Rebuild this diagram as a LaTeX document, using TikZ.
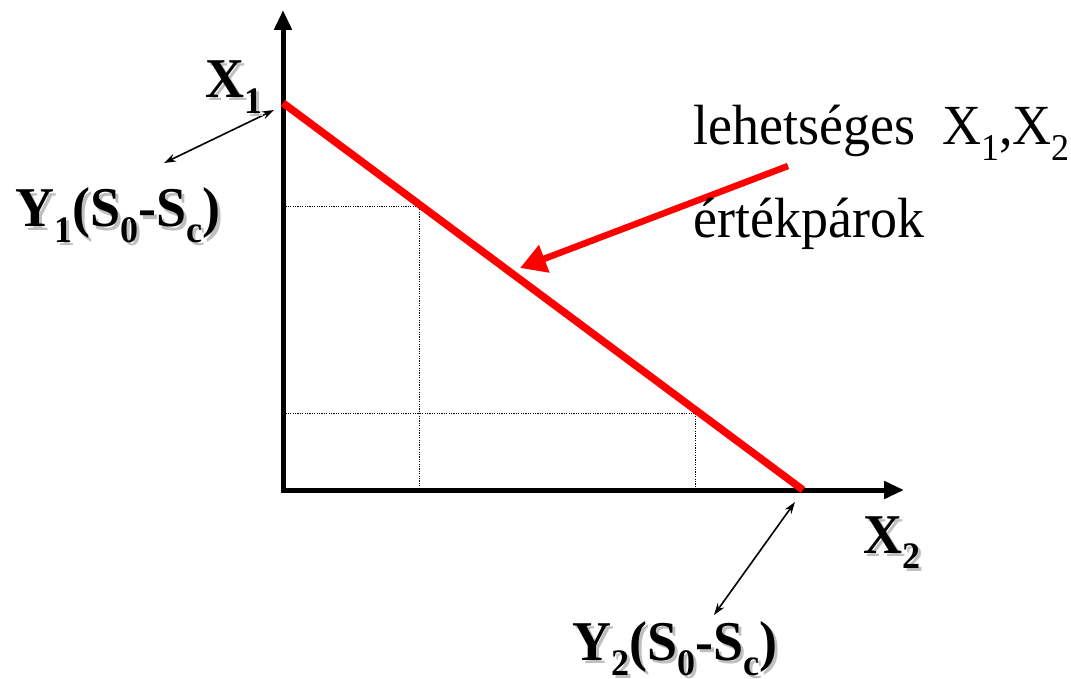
\documentclass[tikz,border=0pt]{standalone}
\usepackage{fontspec}
\setmainfont{Liberation Serif}
\usetikzlibrary{arrows.meta}
\newcommand{\sbs}[1]{\raisebox{-0.27em}{\fontsize{36}{36}\selectfont #1}}
\begin{document}
\begin{tikzpicture}[x=1pt,y=-1pt,
  axisline/.style={line width=5pt,line join=miter,{Triangle[length=20pt,width=17pt]}-{Triangle[length=20pt,width=17pt]}},
  redline/.style={draw=red,line width=7.5pt},
  redarrow/.style={draw=red,line width=6.5pt,-{Triangle[length=26pt,width=28pt]}},
  thinarrow/.style={line width=1.6pt,{Stealth[length=12pt,width=8pt]}-{Stealth[length=12pt,width=8pt]}},
  guide/.style={line width=0.8pt,dash pattern=on 1.2pt off 1.2pt},
  biglbl/.style={font=\fontsize{54}{60}\selectfont\bfseries,inner sep=0pt,anchor=base west,yscale=1.04,transform shape},
  shadowlbl/.style={biglbl,text=black!25},
  normlbl/.style={font=\fontsize{54}{60}\selectfont,inner sep=0pt,anchor=base west,yscale=1.05,transform shape}]
\useasboundingbox (0,0) rectangle (1071,679);
% coordinates
\coordinate (ytop) at (283,10);
\coordinate (O) at (283,490);
\coordinate (xend) at (904,490);
\coordinate (A) at (283,103);
\coordinate (B) at (803,490);
\coordinate (g1a) at (283,206);
\coordinate (g1b) at (419,206);
\coordinate (g1c) at (419,490);
\coordinate (g2a) at (283,413);
\coordinate (g2b) at (695,413);
\coordinate (g2c) at (695,490);
\coordinate (rs) at (788,166);
\coordinate (rt) at (520,268);
\coordinate (t1a) at (274,110);
\coordinate (t1b) at (164,163);
\coordinate (t2a) at (795,502);
\coordinate (t2b) at (714,615);
% guides
\draw[guide] (g1a) -- (g1b) -- (g1c);
\draw[guide] (g2a) -- (g2b) -- (g2c);
% axes
\draw[axisline] (ytop) -- (O) -- (xend);
% red line
\draw[redline] (A) -- (B);
\draw[redarrow] (rs) -- (rt);
% thin arrows
\draw[thinarrow] (t1a) -- (t1b);
\draw[thinarrow] (t2a) -- (t2b);
% labels
\node[shadowlbl] (x1s) at (208,101) {X\sbs{1}};
\node[biglbl] (x1) at (205,98) {X\sbs{1}};
\node[shadowlbl] (y1s) at (18,230) {Y\sbs{1}(S\sbs{0}-S\sbs{c})};
\node[biglbl] (y1) at (15,227) {Y\sbs{1}(S\sbs{0}-S\sbs{c})};
\node[shadowlbl] (x2s) at (866,556) {X\sbs{2}};
\node[biglbl] (x2) at (863,553) {X\sbs{2}};
\node[shadowlbl] (y2s) at (575,663) {Y\sbs{2}(S\sbs{0}-S\sbs{c})};
\node[biglbl] (y2) at (572,660) {Y\sbs{2}(S\sbs{0}-S\sbs{c})};
\node[normlbl] (leh) at (693,145) {lehetséges\ \ X\sbs{1},X\sbs{2}};
\node[normlbl] (ert) at (693,237) {értékpárok};
\end{tikzpicture}
\end{document}
